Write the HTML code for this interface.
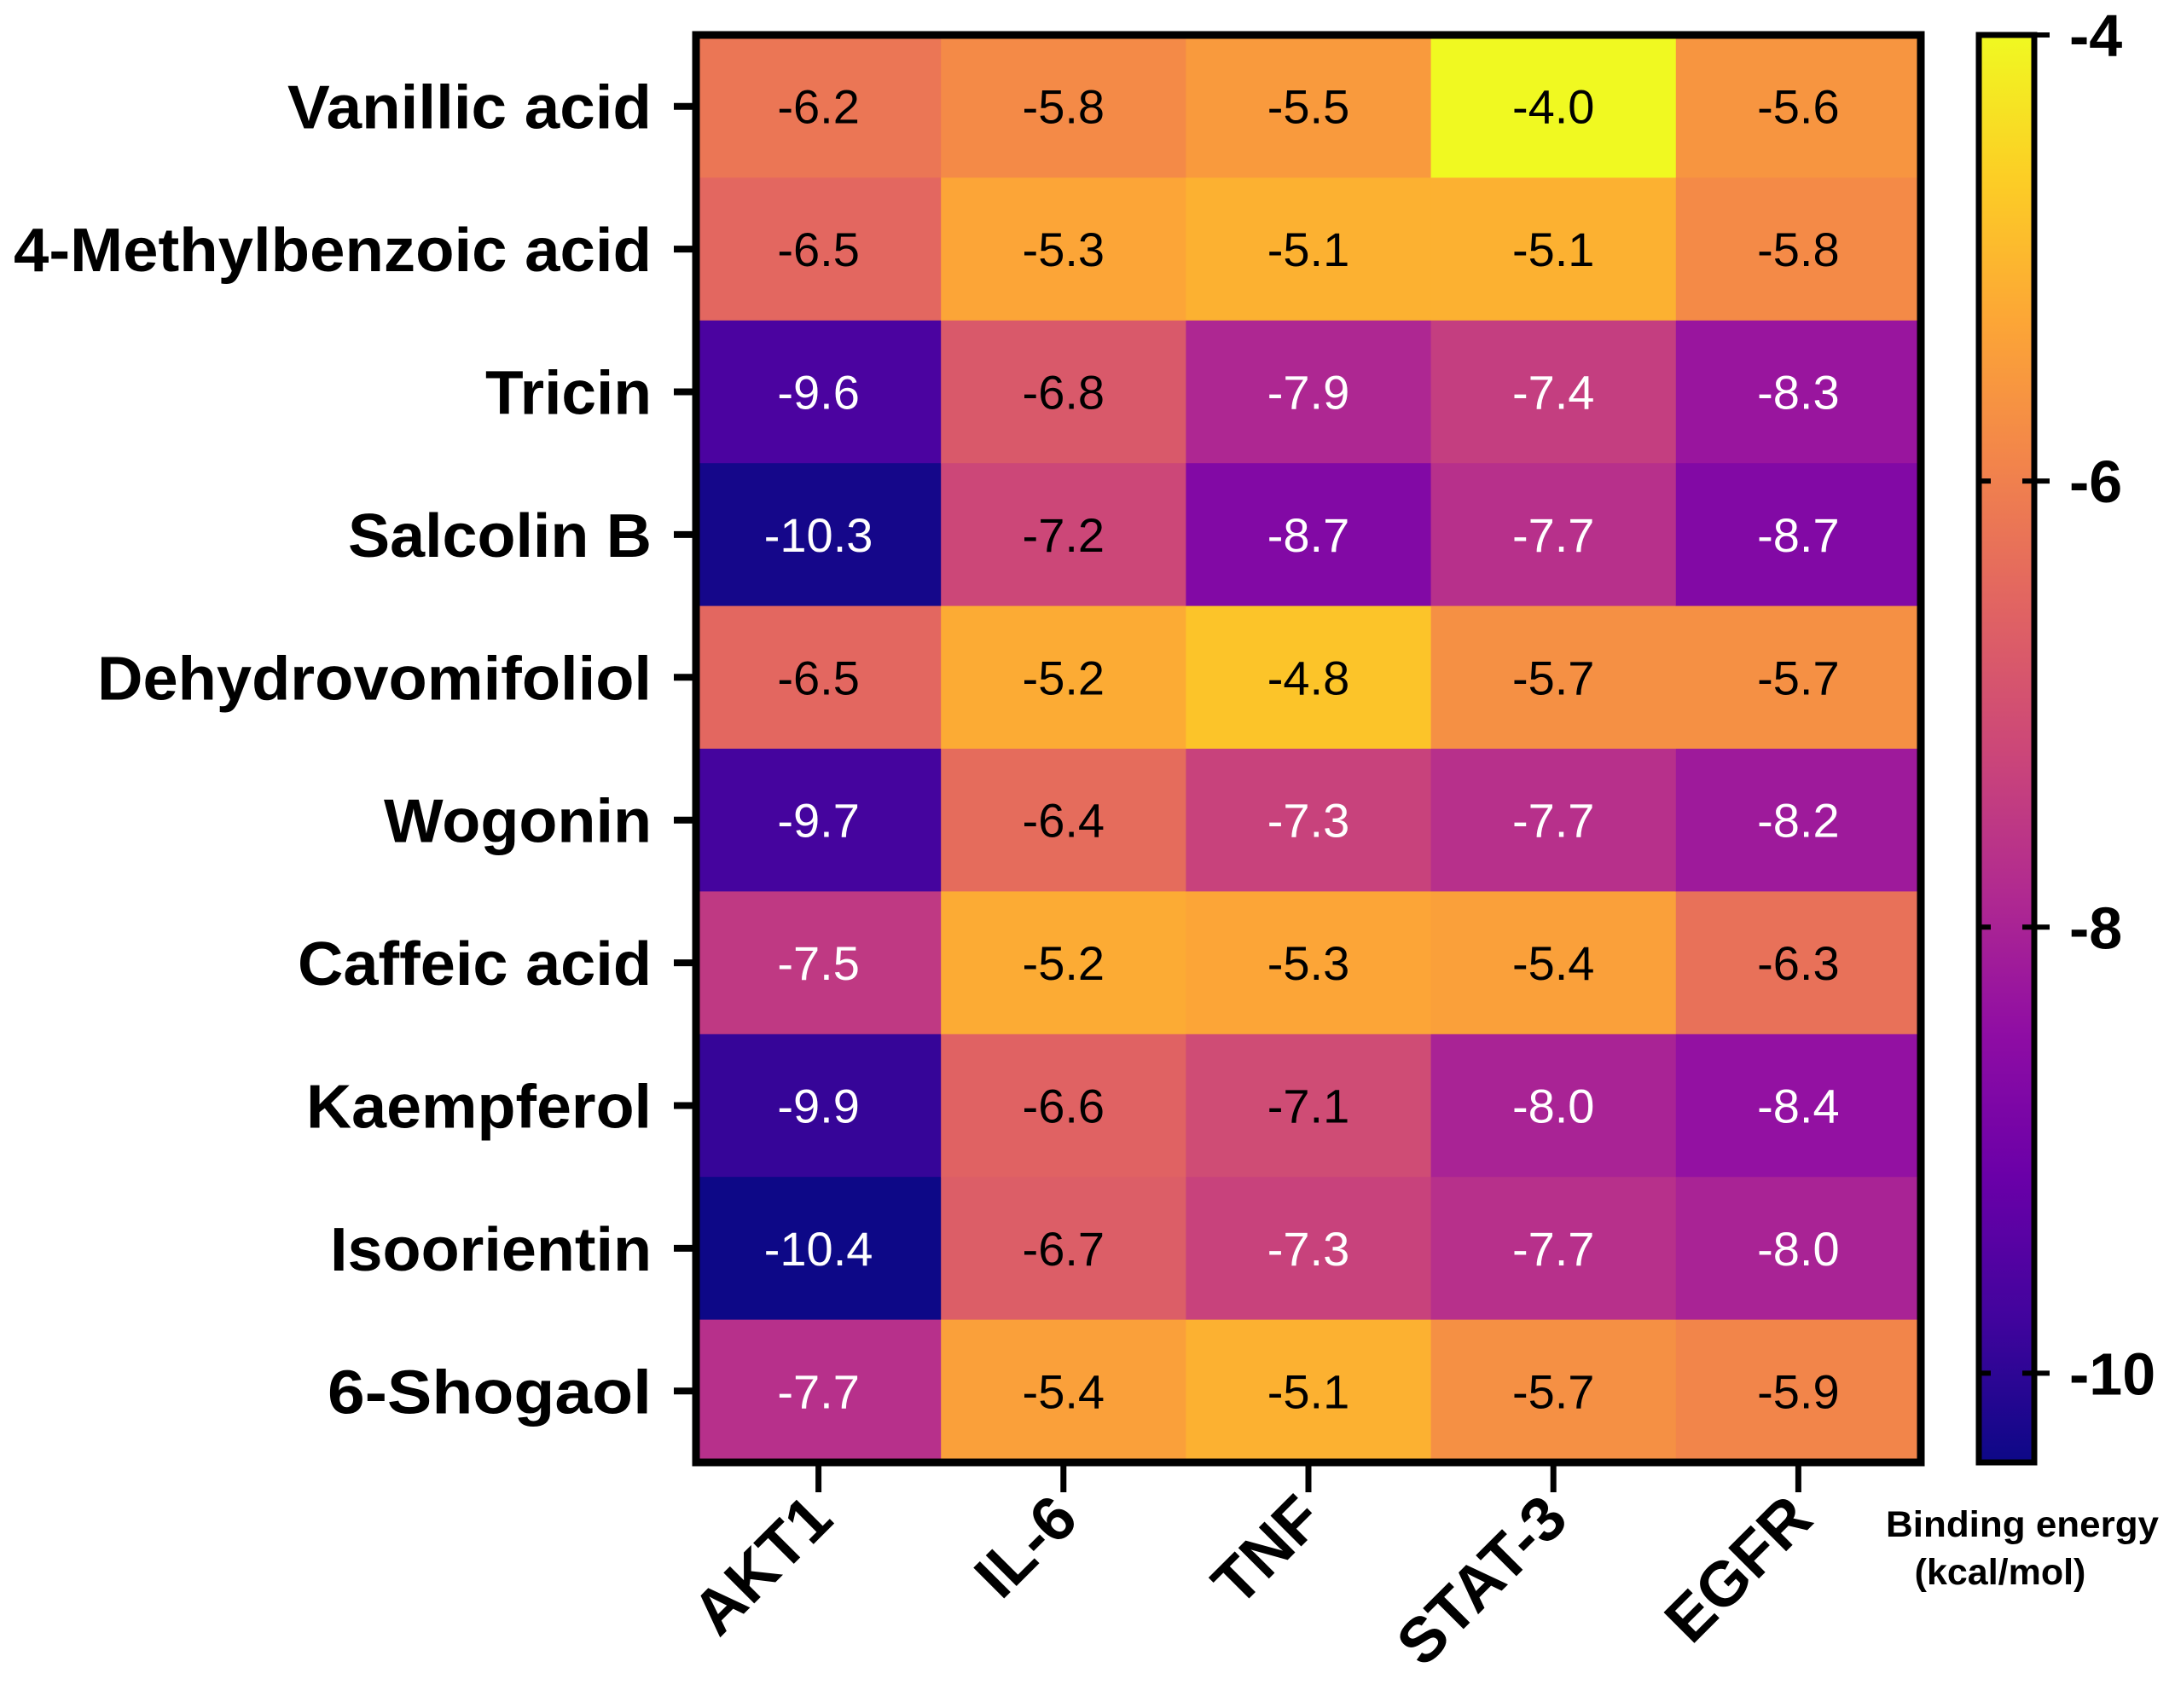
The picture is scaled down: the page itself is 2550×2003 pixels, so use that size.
<!DOCTYPE html>
<html><head><meta charset="utf-8"><style>
html,body{margin:0;padding:0;background:#fff;}
svg{display:block;font-family:"Liberation Sans",Arial,sans-serif;}
</style></head><body>
<svg id="chart" width="2550" height="2003" viewBox="0 0 2550 2003" xmlns="http://www.w3.org/2000/svg">
<defs>
<linearGradient id="plasma" x1="0" y1="1" x2="0" y2="0">
<stop offset="0" stop-color="#0d0887"/><stop offset="0.1" stop-color="#41049d"/><stop offset="0.2" stop-color="#6a00a8"/><stop offset="0.3" stop-color="#8f0da4"/><stop offset="0.4" stop-color="#b12a90"/><stop offset="0.5" stop-color="#cc4778"/><stop offset="0.6" stop-color="#e16462"/><stop offset="0.7" stop-color="#f2844b"/><stop offset="0.8" stop-color="#fca636"/><stop offset="0.9" stop-color="#fcce25"/><stop offset="1" stop-color="#f0f921"/>
</linearGradient>
</defs>
<g id="cells"></g>
<g id="axes"></g>
</svg>
<script>
const compounds = ["Vanillic acid","4-Methylbenzoic acid","Tricin","Salcolin B","Dehydrovomifoliol","Wogonin","Caffeic acid","Kaempferol","Isoorientin","6-Shogaol"];
const targets = ["AKT1","IL-6","TNF","STAT-3","EGFR"];
const valsAKT1 = [-6.2,-6.5,-9.6,-10.3,-6.5,-9.7,-7.5,-9.9,-10.4,-7.7];
const valsIL6 = [-5.8,-5.3,-6.8,-7.2,-5.2,-6.4,-5.2,-6.6,-6.7,-5.4];
const valsTNF = [-5.5,-5.1,-7.9,-8.7,-4.8,-7.3,-5.3,-7.1,-7.3,-5.1];
const valsSTAT3 = [-4.0,-5.1,-7.4,-7.7,-5.7,-7.7,-5.4,-8.0,-7.7,-5.7];
const valsEGFR = [-5.6,-5.8,-8.3,-8.7,-5.7,-8.2,-6.3,-8.4,-8.0,-5.9];
const colorbarTicks = [-4,-6,-8,-10];
const vmin = -10.4, vmax = -4.0;

const NS = "http://www.w3.org/2000/svg";
const L=816,R=2252,T=41,B=1715;
const CB_L=2320,CB_R=2385;
const series=[valsAKT1,valsIL6,valsTNF,valsSTAT3,valsEGFR];
const cw=(R-L)/targets.length, rh=(B-T)/compounds.length;
const xPos=i=>L+i*cw, yPos=j=>T+j*rh;
const cbY=v=>T+(vmax-v)/(vmax-vmin)*(B-T);
const stops=[[13,8,135],[65,4,157],[106,0,168],[143,13,164],[177,42,144],[204,71,120],[225,100,98],[242,132,75],[252,166,54],[252,206,37],[240,249,33]];
function plasma(v){let t=(v-vmin)/(vmax-vmin);t=Math.max(0,Math.min(1,t))*10;const i=Math.min(9,Math.floor(t)),f=t-i;const a=stops[i],b=stops[i+1];return "rgb("+a.map((c,k)=>Math.round(c+(b[k]-c)*f)).join(",")+")";}
function mk(tag,attrs,parent,text){const e=document.createElementNS(NS,tag);for(const k in attrs)e.setAttribute(k,attrs[k]);if(text!==undefined)e.textContent=text;parent.appendChild(e);return e;}
const cells=document.getElementById("cells"), axes=document.getElementById("axes");
series.forEach((vals,i)=>{vals.forEach((v,j)=>{
  const r=mk("rect",{x:xPos(i),y:yPos(j),width:cw+0.5,height:rh+0.5,fill:plasma(v)},cells);
  
  
  const t=mk("text",{x:xPos(i)+cw/2,y:yPos(j)+rh/2+20,"text-anchor":"middle","font-size":56,fill:v<=-7.3?"#fff":"#000"},cells,v.toFixed(1));
  
  
});});
const labelW=[427,748,195,356,650,314,415,405,377,380];
compounds.forEach((c,j)=>{
  const y=yPos(j)+rh/2;
  const t=mk("text",{x:764,y:y+26,"text-anchor":"end","font-size":72,"font-weight":"bold",textLength:labelW[j],lengthAdjust:"spacingAndGlyphs"},axes,c);
  
  
  const tk=mk("line",{x1:790,x2:L,y1:y,y2:y,stroke:"#000","stroke-width":8},axes);
  
  
});
targets.forEach((c,i)=>{
  const x=xPos(i)+cw/2;
  const tk=mk("line",{x1:x,x2:x,y1:B,y2:1750,stroke:"#000","stroke-width":7},axes);
  
  
  const t=mk("text",{x:x+20,y:1785,"text-anchor":"end","font-size":74,"font-weight":"bold",transform:"rotate(-45 "+(x+20)+" 1785)"},axes,c);
  
  
});
const frame=mk("rect",{x:L,y:T,width:R-L,height:B-T,fill:"none",stroke:"#000","stroke-width":9},axes);


const cb=mk("rect",{x:CB_L,y:T,width:CB_R-CB_L,height:B-T,fill:"url(#plasma)",stroke:"#000","stroke-width":7},axes);


colorbarTicks.forEach(v=>{
  const y=cbY(v);
  const a=mk("line",{x1:CB_L,x2:CB_L+14,y1:y,y2:y,stroke:"#000","stroke-width":6},axes);
  
  
  const b=mk("line",{x1:CB_R-14,x2:CB_R+18,y1:y,y2:y,stroke:"#000","stroke-width":6},axes);
  
  
  const t=mk("text",{x:2426,y:y+25,"font-size":70,"font-weight":"bold"},axes,String(v));
  
  
});
const t1=mk("text",{x:2371,y:1802,"text-anchor":"middle","font-size":43,"font-weight":"bold",textLength:320,lengthAdjust:"spacingAndGlyphs"},axes,"Binding energy");


const t2=mk("text",{x:2345,y:1858,"text-anchor":"middle","font-size":43,"font-weight":"bold"},axes,"(kcal/mol)");


</script>
</body></html>
